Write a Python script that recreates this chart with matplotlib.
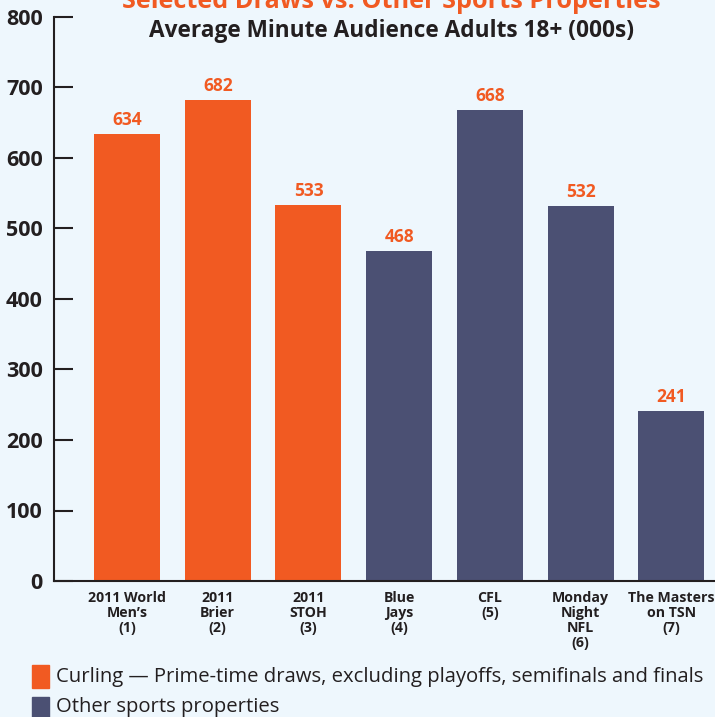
import matplotlib.pyplot as plt

# dados
categorias = ["2011 World\nMen\u2019s\n(1)", "2011\nBrier\n(2)", "2011\nSTOH\n(3)",
              "Blue\nJays\n(4)", "CFL\n(5)", "Monday\nNight\nNFL\n(6)", "The Masters\non TSN\n(7)"]
valores = [634, 682, 533, 468, 668, 532, 241]
grupos = ["curling", "curling", "curling", "other", "other", "other", "other"]

laranja = "#f15a22"
azul = "#4b5073"
fundo = "#eef7fd"
escuro = "#231f20"

plt.rcParams['font.family'] = ['Open Sans', 'DejaVu Sans']

fig = plt.figure(figsize=(7.15, 7.17), dpi=100, facecolor=fundo)
ax = fig.add_axes([54/715, 136/717, 661/715, 564/717])
ax.set_facecolor(fundo)

cores = [laranja if g == "curling" else azul for g in grupos]
x = list(range(len(valores)))
ax.bar(x, valores, width=0.727, color=cores)

for xi, v in zip(x, valores):
    ax.text(xi, v + 7, str(v), ha="center", va="bottom", color=laranja,
            fontsize=12.5, fontweight="bold")

ax.set_xlim(-0.804, 6.48)
ax.set_ylim(0, 800)
ax.set_yticks(range(0, 801, 100))
ax.tick_params(axis="y", direction="in", length=14, width=1.5, color=escuro,
               labelsize=15.5, labelcolor=escuro, pad=8)
for lbl in ax.get_yticklabels():
    lbl.set_fontweight("bold")
ax.set_xticks(x)
ax.set_xticklabels(categorias, fontsize=10.2, fontweight="bold", color=escuro,
                   linespacing=1.1)
ax.tick_params(axis="x", length=0, pad=7)

for s in ["top", "right"]:
    ax.spines[s].set_visible(False)
for s in ["left", "bottom"]:
    ax.spines[s].set_linewidth(1.5)
    ax.spines[s].set_color(escuro)

# titulos
fig.text(391/715, 1 - 2/717, "Selected Draws vs. Other Sports Properties", ha="center",
         va="center", color=laranja, fontsize=18.2, fontweight="bold")
fig.text(391/715, 1 - 31/717, "Average Minute Audience Adults 18+ (000s)", ha="center",
         va="center", color=escuro, fontsize=16.3, fontweight="bold")

# legenda
fig.patches.append(plt.Rectangle((32/715, 1 - 688/717), 17/715, 23/717,
                                 transform=fig.transFigure, color=laranja))
fig.text(56/715, 1 - 677/717, "Curling \u2014 Prime-time draws, excluding playoffs, semifinals and finals",
         ha="left", va="center", fontsize=14.6, color=escuro)
fig.patches.append(plt.Rectangle((32/715, 1 - 720/717), 17/715, 23/717,
                                 transform=fig.transFigure, color=azul))
fig.text(56/715, 1 - 707/717, "Other sports properties",
         ha="left", va="center", fontsize=14.6, color=escuro)

plt.savefig("out.png", dpi=100, facecolor=fundo)
